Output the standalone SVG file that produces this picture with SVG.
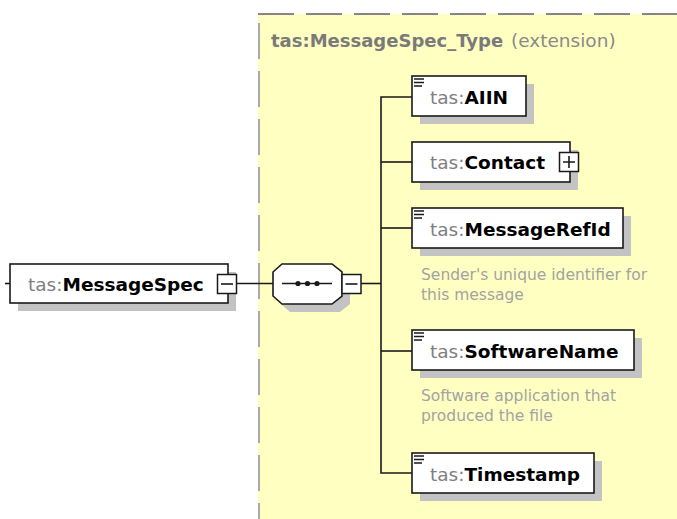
<svg xmlns="http://www.w3.org/2000/svg" width="677" height="519" viewBox="0 0 677 519">
<style>
text{font-family:"DejaVu Sans","Liberation Sans",sans-serif}
.nm{font-size:18.5px}
.pfx{fill:#808080;font-weight:normal}
.b{fill:#000;font-weight:bold}
.box{fill:#fff;stroke:#1a1a1a;stroke-width:1.6}
.sh{fill:#c3c3c3}
.ln{stroke:#1a1a1a;stroke-width:1.6;fill:none}
.desc{font-size:15.5px;fill:#a3a3a3}
.btn{fill:#fff;stroke:#1a1a1a;stroke-width:1.5}
</style>
<defs>
<g id="doc"><path d="M2 3h10M2 6.5h10M2 10h8" stroke="#1a1a1a" stroke-width="1.5"/></g>
</defs>
<g id="type-region">
<rect x="258" y="14" width="419" height="505" fill="#ffffc2"/>
<line x1="258" y1="14" x2="677" y2="14" stroke="#858585" stroke-width="2.2" stroke-dasharray="36 12"/>
<line x1="259" y1="23" x2="259" y2="519" stroke="#ababab" stroke-width="2" stroke-dasharray="36 12"/>
<text x="271" y="47" font-size="18" font-weight="bold" fill="#7a7a7a">tas:MessageSpec_Type</text>
<text x="511" y="47" font-size="18.5" fill="#8a8a8a">(extension)</text>
</g>
<g id="connectors">
<line class="ln" x1="5" y1="283.5" x2="10" y2="283.5"/>
<line class="ln" x1="237" y1="283.5" x2="273" y2="283.5"/>
<line class="ln" x1="361" y1="283.5" x2="381" y2="283.5"/>
<path class="ln" d="M412 97H381V473H412"/>
<line class="ln" x1="381" y1="162" x2="412" y2="162"/>
<line class="ln" x1="381" y1="228" x2="412" y2="228"/>
<line class="ln" x1="381" y1="351" x2="412" y2="351"/>
</g>
<g id="MessageSpec">
<rect class="sh" x="18" y="272" width="218" height="39"/>
<rect class="box" x="10" y="264" width="218" height="39"/>
<text class="nm" x="28" y="291"><tspan class="pfx">tas:</tspan><tspan class="b">MessageSpec</tspan></text>
<rect class="btn" x="217.5" y="274.5" width="19" height="19"/>
<line class="ln" x1="221" y1="284" x2="233" y2="284"/>
</g>
<g id="sequence">
<polygon class="sh" points="290,272 340,272 350,280 350,304 340,312 290,312 281,304 281,280"/>
<polygon class="box" points="282,264 332,264 342,272 342,296 332,304 282,304 273,296 273,272"/>
<line class="ln" x1="282" y1="283.5" x2="332" y2="283.5"/>
<circle cx="298" cy="283.5" r="2.6" fill="#1a1a1a"/>
<circle cx="307.5" cy="283.5" r="2.6" fill="#1a1a1a"/>
<circle cx="317" cy="283.5" r="2.6" fill="#1a1a1a"/>
<rect class="btn" x="342" y="274.5" width="19" height="19"/>
<line class="ln" x1="345.5" y1="284" x2="357.5" y2="284"/>
</g>
<g id="AIIN">
<rect class="sh" x="420" y="84" width="114" height="40"/>
<rect class="box" x="412" y="76" width="114" height="40"/>
<use href="#doc" x="412" y="76"/>
<text class="nm" x="430" y="103.5"><tspan class="pfx">tas:</tspan><tspan class="b">AIIN</tspan></text>
</g>
<g id="Contact">
<rect class="sh" x="420" y="150" width="158" height="40"/>
<rect class="box" x="412" y="142" width="158" height="40"/>
<text class="nm" x="430" y="169"><tspan class="pfx">tas:</tspan><tspan class="b">Contact</tspan></text>
<rect class="btn" x="559.5" y="152.5" width="19" height="19"/>
<path class="ln" d="M563 162H575M569 156V168"/>
</g>
<g id="MessageRefId">
<rect class="sh" x="420" y="216" width="211" height="40"/>
<rect class="box" x="412" y="208" width="211" height="40"/>
<use href="#doc" x="412" y="208"/>
<text class="nm" x="430" y="235.5"><tspan class="pfx">tas:</tspan><tspan class="b">MessageRefId</tspan></text>
<text class="desc" x="421" y="280">Sender's unique identifier for</text>
<text class="desc" x="421" y="300">this message</text>
</g>
<g id="SoftwareName">
<rect class="sh" x="420" y="338" width="222" height="40"/>
<rect class="box" x="412" y="330" width="222" height="40"/>
<use href="#doc" x="412" y="330"/>
<text class="nm" x="430" y="357.5"><tspan class="pfx">tas:</tspan><tspan class="b">SoftwareName</tspan></text>
<text class="desc" x="421" y="401">Software application that</text>
<text class="desc" x="421" y="421">produced the file</text>
</g>
<g id="Timestamp">
<rect class="sh" x="420" y="461" width="182" height="40"/>
<rect class="box" x="412" y="453" width="182" height="40"/>
<use href="#doc" x="412" y="453"/>
<text class="nm" x="430" y="480.5"><tspan class="pfx">tas:</tspan><tspan class="b">Timestamp</tspan></text>
</g>
</svg>
